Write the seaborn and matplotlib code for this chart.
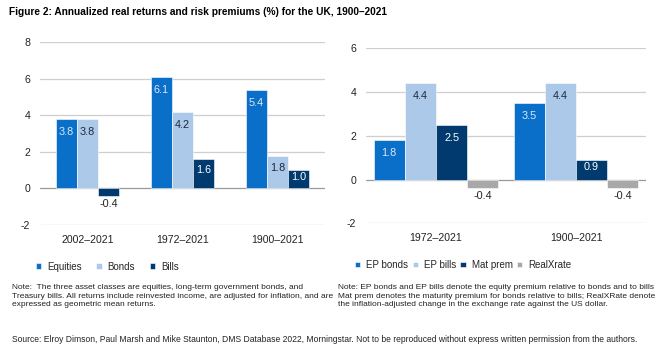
import pandas as pd
import numpy as np
import seaborn as sns
import matplotlib.pyplot as plt

sns.set_theme(style="white")
plt.rcParams['font.family'] = ['Liberation Sans', 'DejaVu Sans']

# left panel: real returns
periods_l = ["2002–2021", "1972–2021", "1900–2021"]
equities = [3.8, 6.1, 5.4]
bonds = [3.8, 4.2, 1.8]
bills = [-0.4, 1.6, 1.0]

# right panel: risk premiums
periods_r = ["1972–2021", "1900–2021"]
ep_bonds = [1.8, 3.5]
ep_bills = [4.4, 4.4]
mat_prem = [2.5, 0.9]
real_xrate = [-0.4, -0.4]

blue = '#0a6fc9'
light = '#adc9e9'
navy = '#003a6e'
grey = '#a8a8a8'

df_l = pd.DataFrame({
    'period': periods_l * 3,
    'series': ['Equities'] * 3 + ['Bonds'] * 3 + ['Bills'] * 3,
    'value': equities + bonds + bills,
})
df_r = pd.DataFrame({
    'period': periods_r * 4,
    'series': ['EP bonds'] * 2 + ['EP bills'] * 2 + ['Mat prem'] * 2 + ['RealXrate'] * 2,
    'value': ep_bonds + ep_bills + mat_prem + real_xrate,
})

fig = plt.figure(figsize=(6.55, 3.52), dpi=100)
ax1 = fig.add_axes([40 / 655, 1 - 225 / 352, 285 / 655, (225 - 42.3) / 352])
ax2 = fig.add_axes([366 / 655, 1 - 223.3 / 352, 280 / 655, (223.3 - 48.3) / 352])


def draw(ax, df, pal, width, ylim, ticks, text_cols):
    sns.barplot(data=df, x='period', y='value', hue='series', palette=pal,
                width=width, gap=0, ax=ax, edgecolor='white', linewidth=0.4,
                errorbar=None, saturation=1)
    ax.set_ylim(*ylim)
    ax.set_xlim(-0.5, len(df['period'].unique()) - 0.5)
    ax.set_yticks(ticks)
    ax.set_yticklabels([str(t) for t in ticks])
    for t in ticks:
        ax.axhline(t, color='#999999' if t == 0 else '#cfcfcf', lw=0.9, zorder=0.5)
    for s in ax.spines.values():
        s.set_visible(False)
    ax.set_xlabel('')
    ax.set_ylabel('')
    ax.tick_params(axis='both', length=0, labelsize=7.6, colors='#222222')
    ax.tick_params(axis='y', pad=7)
    ax.tick_params(axis='x', pad=7)
    fig.canvas.draw()
    px_per_unit = ax.get_window_extent().height / (ylim[1] - ylim[0])
    # value labels: inside the top of positive bars, under negative ones
    for cont, col in zip(ax.containers, text_cols):
        for bar, v in zip(cont, cont.datavalues):
            x = bar.get_x() + bar.get_width() / 2
            if v >= 0:
                off = min(13, 0.37 * v * px_per_unit)
                ax.annotate(f"{v:.1f}", (x, v), xytext=(0, -off * 0.72),
                            textcoords='offset points', ha='center', va='center',
                            fontsize=7.8, color=col)
            else:
                ax.annotate(f"{v:.1f}", (x, v), xytext=(0, -8 * 0.72),
                            textcoords='offset points', ha='center', va='center',
                            fontsize=7.8, color='#222222')
    h, l = ax.get_legend_handles_labels()
    ax.get_legend().remove()
    return h, l


h1, l1 = draw(ax1, df_l, [blue, light, navy], 0.665, (-2, 8), [-2, 0, 2, 4, 6, 8],
              ['#dce9f8', '#1c2a3c', 'white'])
h2, l2 = draw(ax2, df_r, [blue, light, navy, grey], 0.89, (-2, 6), [-2, 0, 2, 4, 6],
              ['#dce9f8', '#1c2a3c', 'white', '#222222'])

leg_kw = dict(frameon=False, ncol=4, handlelength=0.55, handleheight=0.55,
              handletextpad=0.6, fontsize=7.0,
              loc='center left', borderaxespad=0, borderpad=0)
fig.legend(h1, l1, bbox_to_anchor=(36 / 655, 1 - 266.7 / 352), columnspacing=1.5, **leg_kw)
fig.legend(h2, l2, bbox_to_anchor=(355 / 655, 1 - 265 / 352), columnspacing=0.45, **leg_kw)

fig.text(9 / 655, 1 - 12 / 352,
         "Figure 2: Annualized real returns and risk premiums (%) for the UK, 1900–2021",
         fontsize=7.3, fontweight='bold', va='center', ha='left', color='black')

note_kw = dict(fontsize=6.05, va='center', ha='left', color='#222222', linespacing=1.22)
fig.text(12.5 / 655, 1 - 296 / 352,
         "Note:  The three asset classes are equities, long-term government bonds, and\n"
         "Treasury bills. All returns include reinvested income, are adjusted for inflation, and are\n"
         "expressed as geometric mean returns.", **note_kw)
fig.text(337.7 / 655, 1 - 296 / 352,
         "Note: EP bonds and EP bills denote the equity premium relative to bonds and to bills\n"
         "Mat prem denotes the maturity premium for bonds relative to bills; RealXRate denotes\n"
         "the inflation-adjusted change in the exchange rate against the US dollar.", **note_kw)
fig.text(12.5 / 655, 1 - 339 / 352,
         "Source: Elroy Dimson, Paul Marsh and Mike Staunton, DMS Database 2022, Morningstar. "
         "Not to be reproduced without express written permission from the authors.",
         fontsize=6.15, va='center', ha='left', color='#222222')

fig.savefig('out.png', dpi=100)
